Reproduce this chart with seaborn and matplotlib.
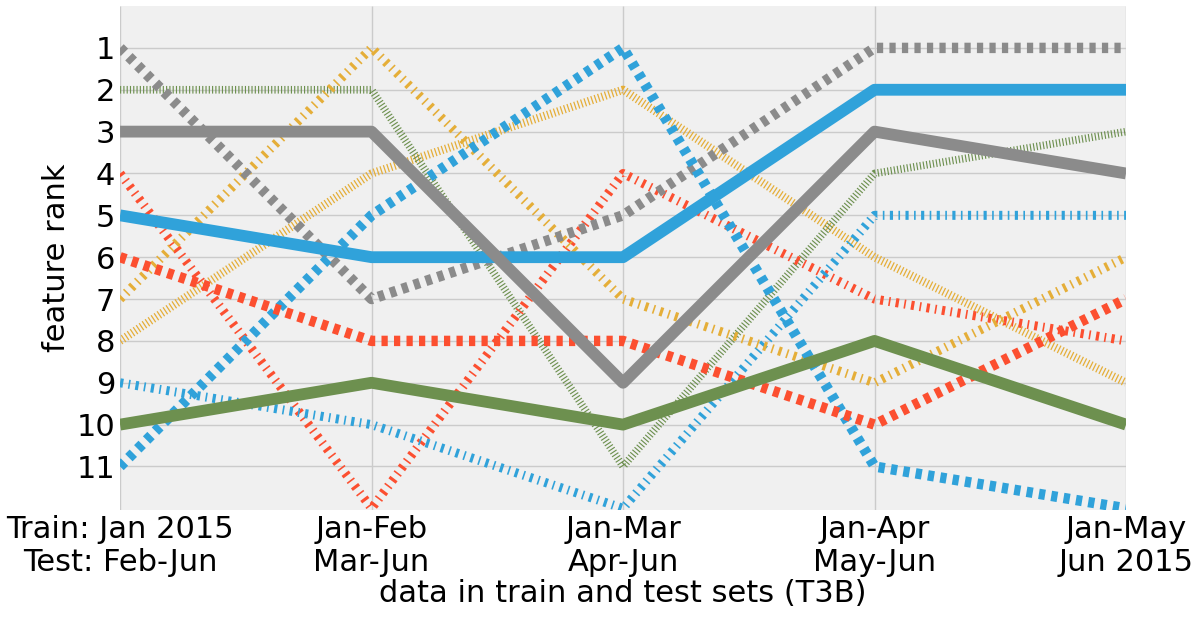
import matplotlib
matplotlib.use("Agg")
import matplotlib.pyplot as plt
import seaborn as sns
import pandas as pd

# rank of each feature for the five train/test splits
splits = [0, 1, 2, 3, 4]
tick_labels = ["Train: Jan 2015\nTest: Feb-Jun", "Jan-Feb\nMar-Jun",
               "Jan-Mar\nApr-Jun", "Jan-Apr\nMay-Jun", "Jan-May\nJun 2015"]

gray_solid = [3, 3, 9, 3, 4]
gray_dotted = [1, 7, 5, 1, 1]
blue_solid = [5, 6, 6, 2, 2]
blue_dotted = [11, 5, 1, 11, 12]
blue_dashdot = [9, 10, 12, 5, 5]
red_dotted = [6, 8, 8, 10, 7]
red_dashdot = [4, 12, 4, 7, 8]
orange_dashdot = [7, 1, 7, 9, 6]
orange_hatch = [8, 4, 2, 6, 9]
green_solid = [10, 9, 10, 8, 10]
green_hatch = [2, 2, 11, 4, 3]

blue, red, orange, green, gray = "#30a2da", "#fc4f30", "#e5ae38", "#6d904f", "#8b8b8b"

hatch = (0, (0.15, 0.28))
dashdot = (0, (0.35, 0.6, 0.18, 0.6))
dotted = (0, (0.6, 0.6))

# (values, colour, linewidth, linestyle)
series = [
    (orange_hatch, orange, 6.0, hatch),
    (green_hatch, green, 5.5, hatch),
    (red_dashdot, red, 6.5, dashdot),
    (blue_dashdot, blue, 6.5, dashdot),
    (orange_dashdot, orange, 6.5, dashdot),
    (gray_dotted, gray, 7.5, dotted),
    (blue_dotted, blue, 7.5, dotted),
    (red_dotted, red, 7.5, dotted),
    (green_solid, green, 8.5, "-"),
    (blue_solid, blue, 8.5, "-"),
    (gray_solid, gray, 8.5, "-"),
]

plt.style.use("fivethirtyeight")
plt.rcParams["font.family"] = ["DejaVu Sans"]

fig = plt.figure(figsize=(11.97, 6.17), dpi=100, facecolor="white")
ax = fig.add_axes([0.1003, 0.1734, 0.8404, 0.8168])
ax.set_facecolor("#f0f0f0")

for vals, col, lw, ls in series:
    df = pd.DataFrame({"split": splits, "rank": vals})
    sns.lineplot(data=df, x="split", y="rank", ax=ax, color=col,
                 linewidth=lw, linestyle=ls, legend=False)

ax.set_xlim(0, 4)
ax.set_ylim(12.04, 0)
ax.set_yticks(range(1, 12))
ax.set_xticks(splits)
ax.set_xticklabels(tick_labels)
ax.tick_params(labelsize=22, length=0)
ax.grid(True, color="#cbcbcb", linewidth=1)
for s in ax.spines.values():
    s.set_visible(False)
ax.set_xlabel("data in train and test sets (T3B)", fontsize=22, labelpad=1)
ax.set_ylabel("feature rank", fontsize=22)

fig.savefig("out.png", dpi=100, facecolor="white")
